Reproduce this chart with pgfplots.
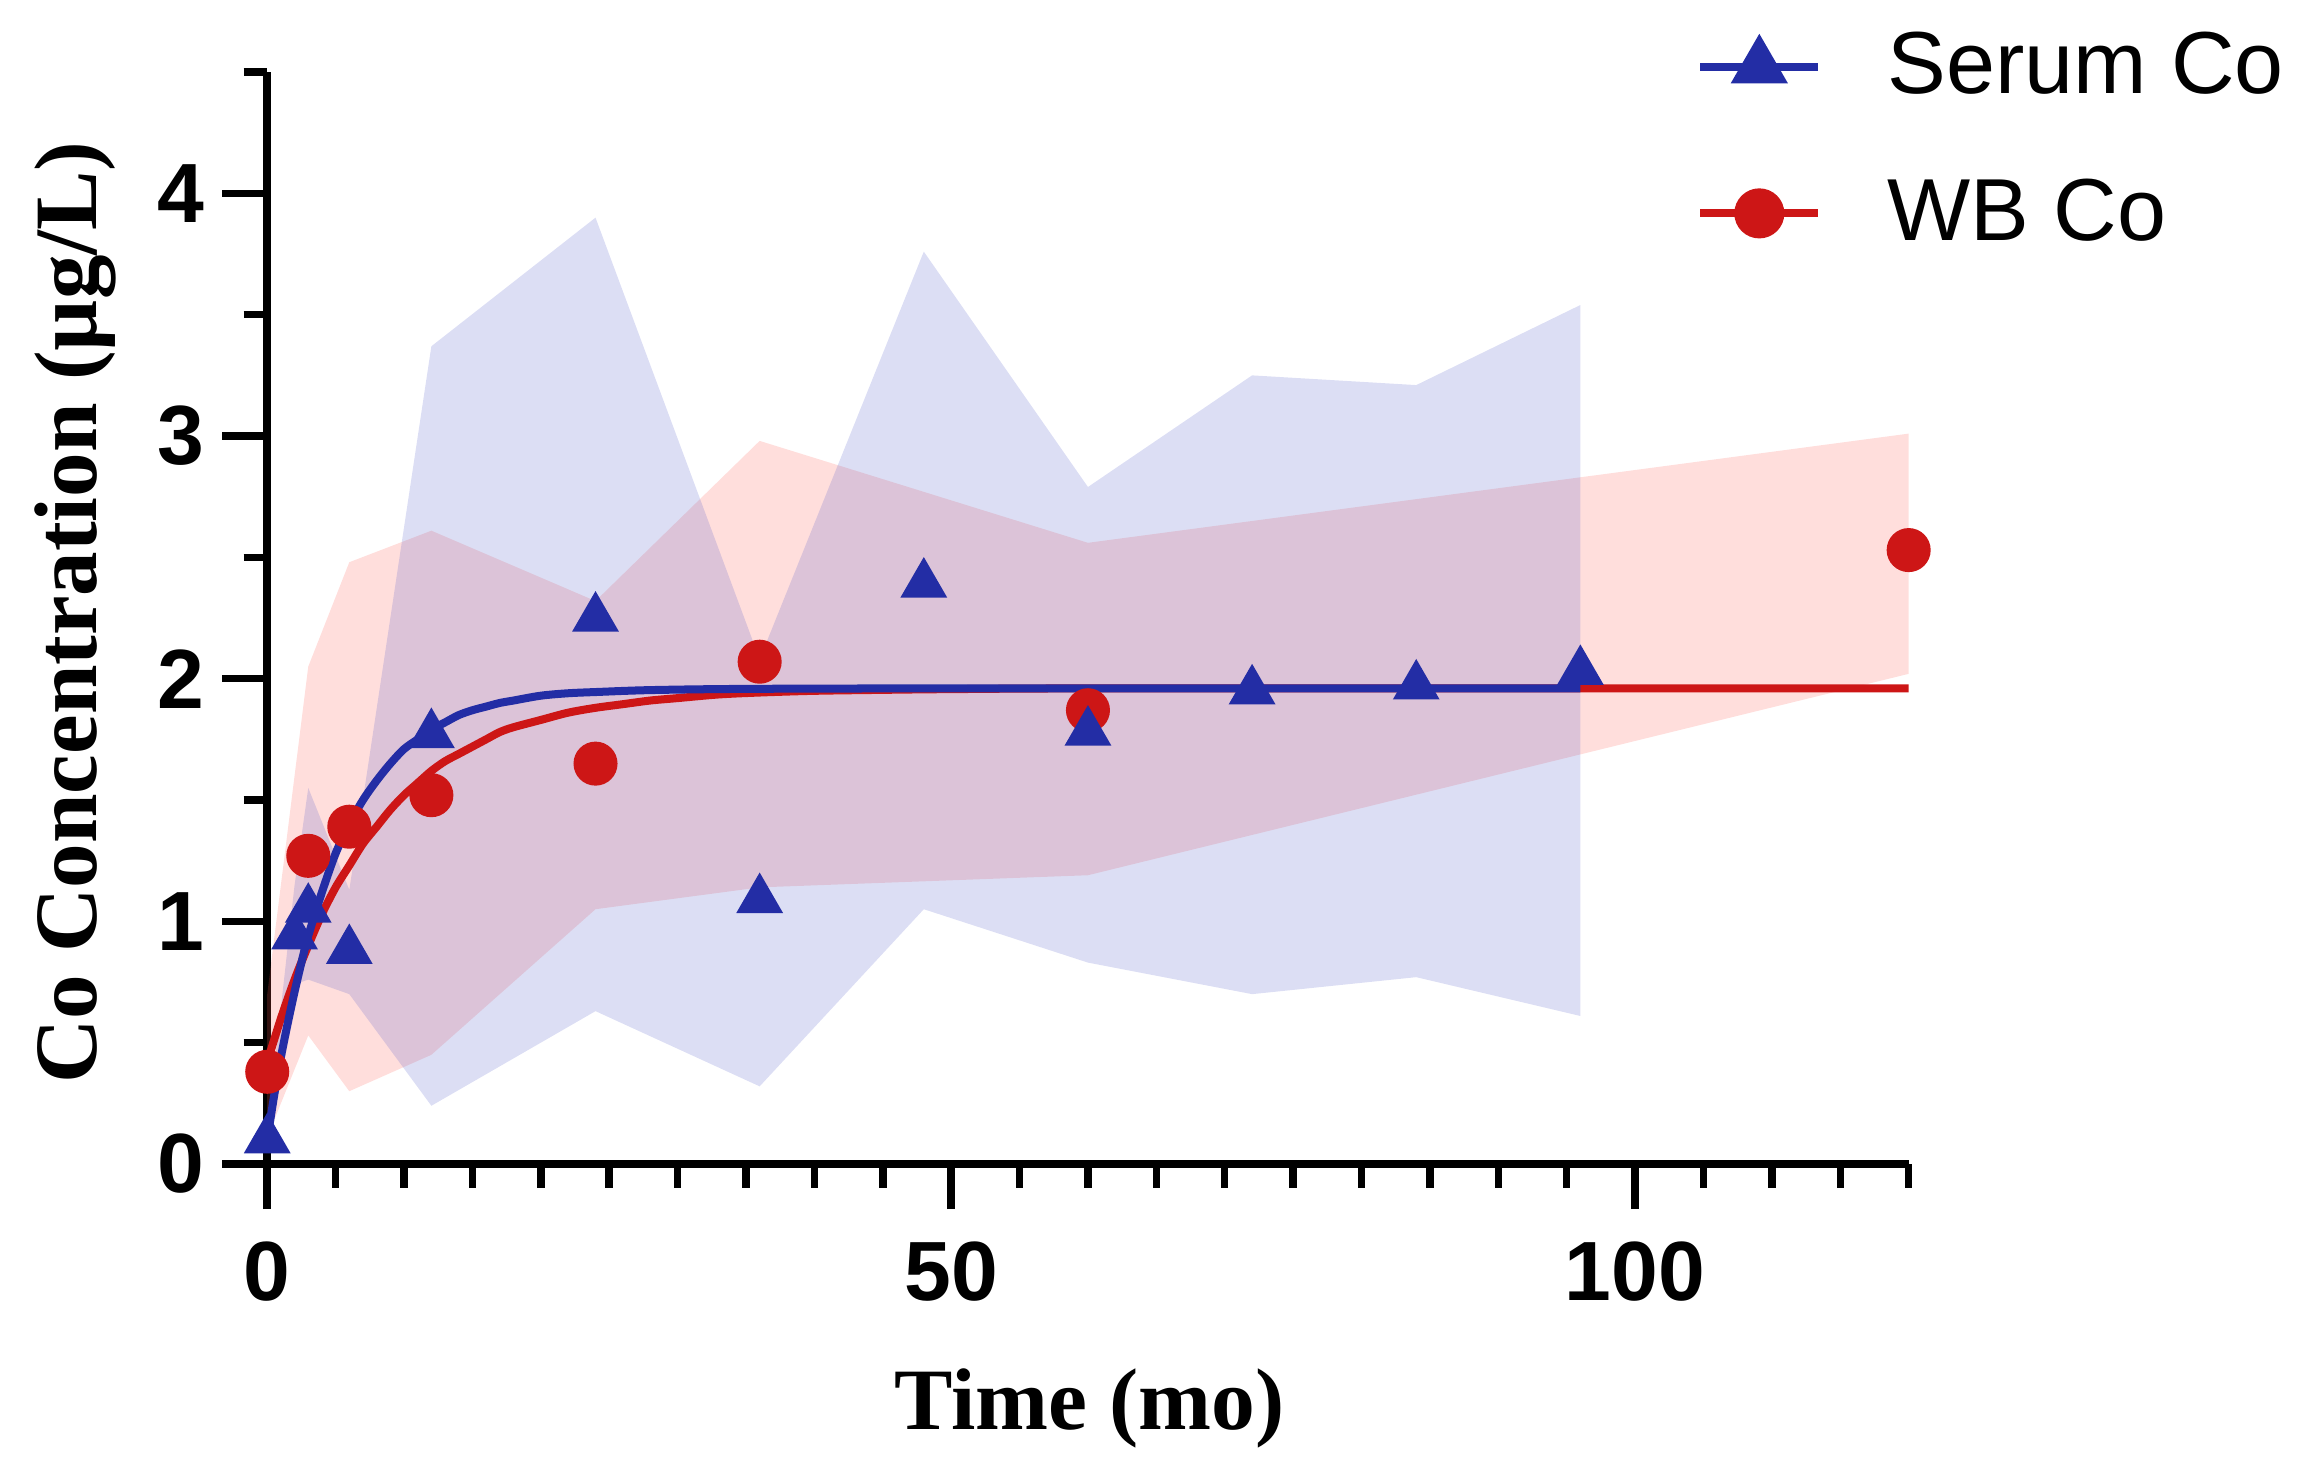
\documentclass[border=0pt]{standalone}
\usepackage{fontspec}
\setmainfont{Liberation Serif}
\newfontfamily\arial{Liberation Sans}
\usepackage{pgfplots}
\pgfplotsset{compat=1.18}

\definecolor{serum}{RGB}{35,45,165}
\definecolor{wbc}{RGB}{205,22,22}
\definecolor{serumband}{RGB}{80,90,200}
\definecolor{wbband}{RGB}{255,90,80}

\begin{document}
\begin{tikzpicture}
\useasboundingbox (-53.4pt,-61.4pt) rectangle (406.6pt,232.6pt);
\begin{axis}[
    at={(0,0)}, anchor=south west,
    scale only axis, width=328pt, height=218.2pt,
    xmin=0, xmax=120, ymin=0, ymax=4.5,
    clip=false,
    axis lines=left, axis line style={-, line width=1.5pt, black},
    xtick={0,50,100}, minor xtick={0,5,...,120},
    ytick={0,1,2,3,4}, minor ytick={0.5,1.5,2.5,3.5,4.5},
    tick align=outside, major tick length=9pt, minor tick length=4.7pt,
    tick style={line width=1.5pt, black},
    /pgf/number format/assume math mode=true,
    ticklabel style={font=\arial\bfseries\fontsize{16.8}{19}\selectfont},
    xticklabel style={yshift=-3pt},
    xlabel={Time (mo)},
    ylabel={Co Concentration (µg/L)},
    xlabel style={font=\bfseries\fontsize{17.5}{20}\selectfont, at={(axis description cs:0.501,-0.243)}, anchor=base},
    ylabel style={font=\bfseries\fontsize{17.8}{20}\selectfont, at={(axis description cs:-0.104,0.505)}, anchor=base},
    legend style={at={(axis description cs:0.870,0.9377)}, anchor=west, draw=none, fill=none,
        inner sep=0pt, row sep=15.5pt, font=\arial\fontsize{17.6}{20}\selectfont,
        nodes={inner sep=0pt}, /tikz/every odd column/.append style={column sep=13pt}},
    legend cell align=left,
    legend image code/.code={\draw[mark repeat=2,mark phase=2,#1] plot coordinates {(0pt,0pt) (11.8pt,0pt) (23.6pt,0pt)};},
]
% shaded ranges
\addplot[forget plot, draw=none, fill=wbband, fill opacity=0.2] coordinates {
    (0,0.70) (3,2.05) (6,2.48) (12,2.61) (24,2.32) (36,2.98) (60,2.56) (120,3.01)
    (120,2.02) (60,1.19) (36,1.14) (24,1.05) (12,0.45) (6,0.30) (3,0.53) (0,0.11)
} -- cycle;
\addplot[forget plot, draw=none, fill=serumband, fill opacity=0.2] coordinates {
    (0,0.14) (2,1.15) (3,1.55) (6,1.13) (12,3.37) (24,3.90) (36,2.08) (48,3.76) (60,2.79) (72,3.25) (84,3.21) (96,3.54)
    (96,0.61) (84,0.77) (72,0.70) (60,0.83) (48,1.05) (36,0.32) (24,0.63) (12,0.24) (6,0.70) (3,0.76) (2,0.74) (0,0.07)
} -- cycle;

% WB Co
\addplot[forget plot, wbc, line width=1.6pt, smooth, no marks] coordinates {
    (0,0.42) (1,0.60) (2,0.76) (3,0.90) (4,1.03) (5,1.14) (6,1.23) (7,1.32) (8,1.39)
    (9,1.46) (10,1.52) (11,1.57) (12,1.62) (13,1.66) (14,1.69) (15,1.72) (16,1.75)
    (17,1.78) (18,1.80) (20,1.83) (22,1.86) (24,1.88) (26,1.895) (28,1.91) (30,1.92)
    (33,1.935) (36,1.943) (40,1.95) (45,1.954) (50,1.957) (60,1.96) (90,1.96) (120,1.96)
};
\addplot[forget plot, only marks, mark=*, mark size=4.2pt, wbc] coordinates {
    (0,0.38) (3,1.27) (6,1.39) (12,1.52) (24,1.65) (36,2.07) (60,1.87) (120,2.53)
};

% Serum Co
\addplot[forget plot, serum, line width=1.6pt, smooth, no marks] coordinates {
    (0,0.10) (0.5,0.28) (1,0.44) (1.5,0.58) (2,0.71) (2.5,0.83) (3,0.94) (4,1.12)
    (5,1.28) (6,1.40) (7,1.50) (8,1.58) (9,1.65) (10,1.71) (11,1.75) (12,1.79)
    (13,1.82) (14,1.85) (15,1.87) (16,1.885) (17,1.90) (18,1.91) (20,1.93) (22,1.94)
    (24,1.945) (28,1.953) (35,1.958) (50,1.96) (96,1.96)
};
\addplot[forget plot, only marks, mark=triangle*, mark size=5pt, serum] coordinates {
    (0,0.10) (2,0.94) (3,1.05) (6,0.88) (12,1.77) (24,2.25) (36,1.09) (48,2.39)
    (60,1.78) (72,1.95) (84,1.97) (96,2.03)
};

\addlegendimage{serum, line width=1.6pt, mark=triangle*, mark size=5pt}
\addlegendentry{Serum Co}
\addlegendimage{wbc, line width=1.6pt, mark=*, mark size=4.2pt}
\addlegendentry{WB Co}
\end{axis}
\end{tikzpicture}
\end{document}
